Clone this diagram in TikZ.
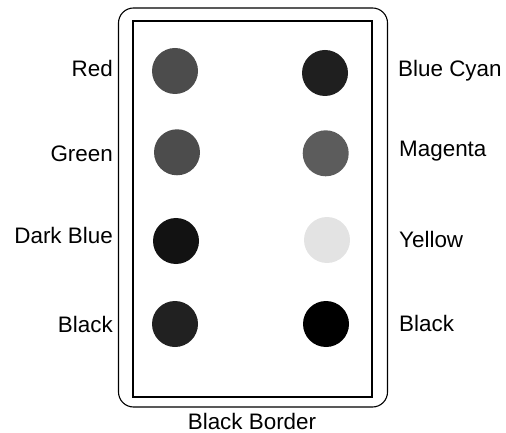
\documentclass[tikz,border=0pt]{standalone}
\usepackage{fontspec}
\setmainfont{Liberation Sans}
\begin{document}
\begin{tikzpicture}[x=1bp,y=-1bp,
  lbl/.style={font=\fontsize{22.5}{26}\selectfont, inner sep=0pt},
  dot/.style={circle, minimum size=46bp, inner sep=0pt, draw=none}]
\useasboundingbox (0,0) rectangle (506,433);
\draw[line width=1.1bp, rounded corners=15bp] (118.5,8) rectangle (387.5,407);
\draw[line width=2bp] (133,21) rectangle (371.5,397);
\node[dot, fill=black!70] (red) at (175,71) {};
\node[dot, fill=black!88] (bluecyan) at (325,73) {};
\node[dot, fill=black!70] (green) at (177,152.3) {};
\node[dot, fill=black!64] (magenta) at (325.7,153.3) {};
\node[dot, fill=black!93] (darkblue) at (176,241) {};
\node[dot, fill=black!11] (yellow) at (327,240) {};
\node[dot, fill=black!87] (blackl) at (175,324) {};
\node[dot, fill=black] (blackr) at (326,324) {};
\node[lbl, anchor=base east] (tred) at (113,77) {Red};
\node[lbl, anchor=base east] (tgreen) at (113,161.7) {Green};
\node[lbl, anchor=base east] (tdarkblue) at (113,244) {Dark Blue};
\node[lbl, anchor=base east] (tblackl) at (113,332) {Black};
\node[lbl, anchor=base west] (tbluecyan) at (398,76.7) {Blue Cyan};
\node[lbl, anchor=base west] (tmagenta) at (399,156.7) {Magenta};
\node[lbl, anchor=base west] (tyellow) at (399,248) {Yellow};
\node[lbl, anchor=base west] (tblackr) at (399,331) {Black};
\node[lbl, anchor=base] (tborder) at (252,429.5) {Black Border};
\end{tikzpicture}
\end{document}
